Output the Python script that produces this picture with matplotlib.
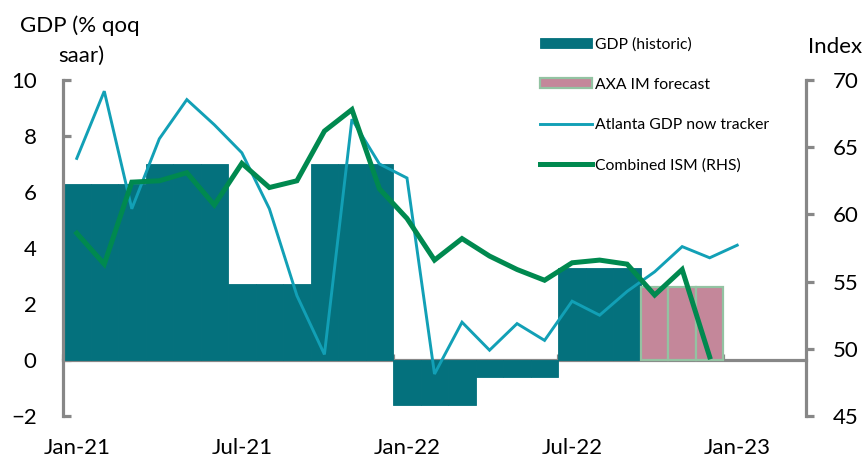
import numpy as np
import matplotlib
matplotlib.use("Agg")
import matplotlib.pyplot as plt

plt.rcParams['font.family'] = ['Lato', 'DejaVu Sans']

# ---- data (monthly categories starting Jan-21) ----
n_months = 27
tick_labels = ['Jan-21', 'Jul-21', 'Jan-22', 'Jul-22', 'Jan-23']
tick_months = [0, 6, 12, 18, 24]

gdp_hist = [6.3, 6.3, 6.3, 7.0, 7.0, 7.0, 2.7, 2.7, 2.7, 7.0, 7.0, 7.0,
            -1.6, -1.6, -1.6, -0.6, -0.6, -0.6, 3.3, 3.3, 3.3]
gdp_fcst_start = 21
gdp_fcst = [2.6, 2.6, 2.6]

atlanta = [7.2, 9.6, 5.4, 7.9, 9.3, 8.4, 7.4, 5.4, 2.3, 0.2, 8.6, 7.0, 6.5,
           -0.5, 1.35, 0.35, 1.3, 0.7, 2.1, 1.6, 2.45, 3.15, 4.05, 3.65, 4.1]
ism = [58.6, 56.3, 62.4, 62.5, 63.1, 60.7, 63.8, 62.0, 62.5, 66.2, 67.8, 61.9,
       59.7, 56.6, 58.2, 56.9, 55.9, 55.1, 56.4, 56.6, 56.3, 54.0, 55.9, 49.4]

# ---- style ----
TEAL = '#04717d'
PINK = '#c4879a'
PINK_EDGE = '#93c3a2'
BLUE = '#12a0b6'
GREEN = '#00894f'
GREY = '#878787'
FS = 16

W, H = 868, 462
fig = plt.figure(figsize=(W / 100, H / 100), dpi=100)
ax = fig.add_axes([63 / W, 1 - 416 / H, (806 - 63) / W, (416 - 80) / H])
ax2 = ax.twinx()

x_hist = np.arange(len(gdp_hist))
x_fcst = gdp_fcst_start + np.arange(len(gdp_fcst))
b1 = ax.bar(x_hist, gdp_hist, width=1.0, align='edge', color=TEAL,
            edgecolor=TEAL, linewidth=0.6, label='GDP (historic)', zorder=2)
b2 = ax.bar(x_fcst, gdp_fcst, width=1.0, align='edge', color=PINK,
            edgecolor=PINK_EDGE, linewidth=1.6, label='AXA IM forecast', zorder=2)
l1, = ax.plot(np.arange(len(atlanta)) + 0.5, atlanta, color=BLUE, lw=2.1,
              label='Atlanta GDP now tracker', zorder=3, solid_joinstyle='miter')
l2, = ax2.plot(np.arange(len(ism)) + 0.5, ism, color=GREEN, lw=3.6,
               label='Combined ISM (RHS)', zorder=3, solid_joinstyle='miter')

ax.set_xlim(0, n_months)
ax.set_ylim(-2, 10)
ax2.set_ylim(45, 70)
ax.set_yticks(np.arange(-2, 11, 2))
ax2.set_yticks(np.arange(45, 71, 5))

for a in (ax, ax2):
    a.spines['top'].set_visible(False)
    a.patch.set_visible(False)
ax2.spines['bottom'].set_visible(False)
ax2.spines['left'].set_visible(False)
ax.spines['right'].set_visible(False)
ax2.spines['right'].set_color(GREY)
ax2.spines['right'].set_linewidth(2.3)
ax.spines['left'].set_color(GREY)
ax.spines['left'].set_linewidth(2.3)
ax.spines['bottom'].set_position(('data', 0))
ax.spines['bottom'].set_color(GREY)
ax.spines['bottom'].set_linewidth(2.3)
ax.spines['bottom'].set_zorder(1.5)

ax.tick_params(axis='y', direction='in', length=6, width=2.3, color=GREY,
               labelsize=FS, pad=19)
ax2.tick_params(axis='y', direction='out', length=6, width=2.3, color=GREY,
                labelsize=FS, pad=13)
ax.set_xticks(tick_months)
ax.tick_params(axis='x', direction='in', length=4, width=2.3, color=GREY,
               labelbottom=False)

sec = ax.secondary_xaxis(0.0)
sec.spines['bottom'].set_visible(False)
sec.set_xticks([m + 0.5 for m in tick_months])
sec.set_xticklabels(tick_labels)
sec.tick_params(axis='x', length=0, labelsize=FS, pad=16)

fig.text(80 / W, 1 - 31.5 / H, 'GDP (% qoq', ha='center', va='baseline', fontsize=FS)
fig.text(81 / W, 1 - 62 / H, 'saar)', ha='center', va='baseline', fontsize=FS)
fig.text(862 / W, 1 - 53 / H, 'Index', ha='right', va='baseline', fontsize=FS)

fig.legend(handles=[b1, b2, l1, l2], loc='upper left',
           bbox_to_anchor=(540 / W, 1 - 37 / H), bbox_transform=fig.transFigure,
           frameon=False, fontsize=11.3, handlelength=3.3, handleheight=0.65,
           handletextpad=0.2, labelspacing=1.68, borderpad=0, borderaxespad=0)

fig.savefig('out.png', dpi=100)
